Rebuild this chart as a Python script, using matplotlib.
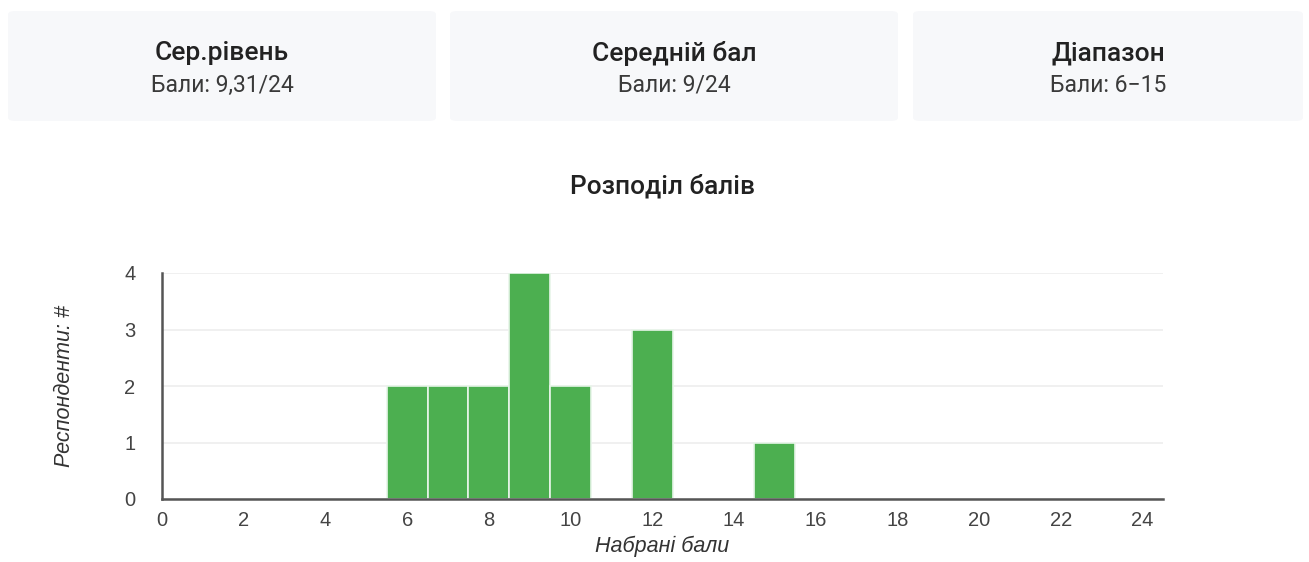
import matplotlib
matplotlib.use("Agg")
import matplotlib.pyplot as plt
from matplotlib.patches import FancyBboxPatch

plt.rcParams['font.family'] = ['Roboto', 'DejaVu Sans']

scores = [6, 7, 8, 9, 10, 12, 15]
counts = [2, 2, 2, 4, 2, 3, 1]
x_ticks = list(range(0, 25, 2))
y_ticks = [0, 1, 2, 3, 4]

card_titles = ["Сер.рівень", "Середній бал", "Діапазон"]
card_values = ["Бали: 9,31/24", "Бали: 9/24", "Бали: 6−15"]
chart_title = "Розподіл балів"
x_label = "Набрані бали"
y_label = "Респонденти: #"

W, H = 1309, 562
fig = plt.figure(figsize=(W / 100, H / 100), dpi=100)
fig.patch.set_facecolor("white")

# cards (pixel coords -> figure fraction)
cards = [(8, 436), (450, 898), (913, 1303)]
top_px, bot_px = 11, 121
for (x0, x1), t, v in zip(cards, card_titles, card_values):
    p = FancyBboxPatch((x0 / W, 1 - bot_px / H), (x1 - x0) / W, (bot_px - top_px) / H,
                       boxstyle="round,pad=0,rounding_size=0.006",
                       transform=fig.transFigure, facecolor="#f7f8fa",
                       edgecolor="none", zorder=0)
    fig.patches.append(p)
    cx = (x0 + x1) / 2 / W
    fig.text(cx, 1 - 53 / H, t, ha="center", va="center", fontsize=19,
             fontweight="medium", color="#222222")
    fig.text(cx, 1 - 85 / H, v, ha="center", va="center", fontsize=16.5,
             color="#3a3a3a")

fig.text(662 / W, 1 - 186 / H, chart_title, ha="center", va="center",
         fontsize=18.9, fontweight="medium", color="#222222")

ax_font = ['Liberation Sans', 'DejaVu Sans']
ax = fig.add_axes([162 / W, 1 - 499 / H, (1163 - 162) / W, (499 - 273) / H])
ax.bar(scores, counts, width=1.0, color="#4caf50", edgecolor="#e8f5e9",
       linewidth=1.2, zorder=3)
ax.set_xlim(0, 24.5)
ax.set_ylim(0, 4)
ax.set_xticks(x_ticks)
ax.set_yticks(y_ticks)
ax.grid(axis="y", color="#eeeeee", linewidth=1.2, zorder=0)
ax.set_axisbelow(True)
for s in ["top", "right"]:
    ax.spines[s].set_visible(False)
for s in ["left", "bottom"]:
    ax.spines[s].set_color("#555555")
    ax.spines[s].set_linewidth(1.8)
    ax.spines[s].set_zorder(4)
ax.tick_params(length=0, labelsize=14.5, labelcolor="#444444")
ax.tick_params(axis="x", pad=9)
ax.tick_params(axis="y", pad=19)
for lab in ax.get_xticklabels() + ax.get_yticklabels():
    lab.set_family(ax_font)
ax.set_xlabel(x_label, fontsize=15.5, style="italic", color="#333333",
              family=ax_font, labelpad=4)
ax.set_ylabel(y_label, fontsize=15.5, style="italic", color="#333333",
              family=ax_font)
ax.yaxis.set_label_coords(-0.087, 0.5)

fig.savefig("out.png", dpi=100, facecolor="white")
